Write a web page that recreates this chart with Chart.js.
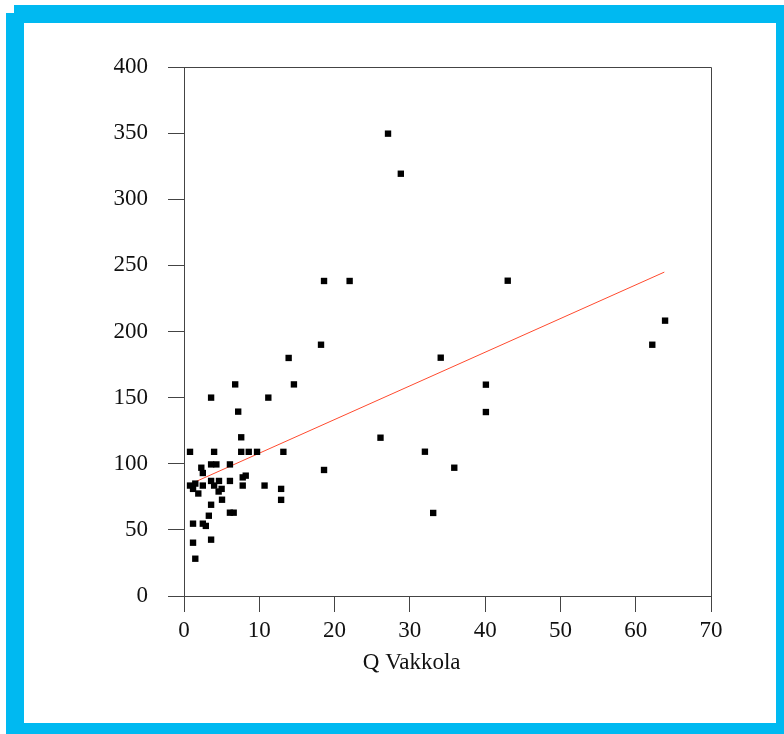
<!DOCTYPE html>
<html>
<head>
<meta charset="utf-8">
<script src="https://cdn.jsdelivr.net/npm/chart.js@4/dist/chart.umd.min.js"></script>
<style>
  html, body { margin: 0; padding: 0; background: #fff; }
  #wrap { position: relative; width: 784px; height: 734px; overflow: hidden; }
  #frame { position: absolute; left: 6px; top: 5px; width: 778px; height: 729px; background: #00b9f1; }
  #inner { position: absolute; left: 24px; top: 23px; width: 752px; height: 700px; background: #fff; }
  #notch { position: absolute; left: 6px; top: 5px; width: 8px; height: 8px; background: #fff; }
  canvas { position: absolute; left: 0; top: 0; }
</style>
</head>
<body>
<div id="wrap">
  <div id="frame"></div>
  <div id="inner"></div>
  <div id="notch"></div>
  <canvas id="c" width="784" height="734"></canvas>
</div>
<script>
// Q Vakkola (x) values of the observations
const xVals = [
  7.6, 0.8, 4.0, 7.6, 8.6, 9.7, 13.2, 2.3, 2.5, 3.6,
  4.3, 6.1, 0.8, 1.5, 1.2, 1.9, 2.5, 3.6, 4.0, 4.65,
  5.0, 4.6, 6.1, 7.8, 8.2, 7.8, 10.7, 12.9, 12.9, 5.05,
  3.6, 6.1, 6.6, 3.3, 1.2, 2.5, 2.9, 3.6, 1.2, 1.5,
  6.8, 3.6, 11.2, 7.2, 18.2, 13.9, 14.6, 26.1, 18.6,
  27.1, 28.8,
  43.0, 63.9, 62.2, 34.1, 40.1, 40.1, 32.0, 35.9, 33.1,
  18.6, 22.0
];
// y values of the observations
const yVals = [
  120, 109, 109, 109, 109, 109, 109, 97, 93, 99.5,
  99.5, 99.5, 83.5, 85, 81, 77.5, 83.5, 87, 83.5, 87,
  81, 79, 87, 89.7, 91, 83.5, 83.5, 81, 72.7, 72.8,
  69, 63, 63, 60.7, 54.7, 54.7, 53, 42.6, 40.3, 28.2,
  160, 150, 150, 139.4, 190, 180, 160, 119.7, 95.3,
  349.6, 319.3,
  238.4, 208.2, 190, 180.2, 159.8, 139.1, 109.1, 97, 62.8,
  238.2, 238.2
];
// fitted regression line end points
const fitX = [0.7, 63.8];
const fitY = [84.3, 244.9];
// axis ticks
const xTicks = [0, 10, 20, 30, 40, 50, 60, 70];
const yTicks = [0, 50, 100, 150, 200, 250, 300, 350, 400];
const xTitle = 'Q Vakkola';

const points = xVals.map((x, i) => ({ x: x, y: yVals[i] }));
const fitLine = fitX.map((x, i) => ({ x: x, y: fitY[i] }));

const FAMILY = "'Liberation Serif', 'Times New Roman', serif";
const FONT = { family: FAMILY, size: 23 };
const AXIS = '#444';

const boxPlugin = {
  id: 'box',
  afterDraw(chart) {
    const a = chart.chartArea, ctx = chart.ctx;
    ctx.save();
    ctx.strokeStyle = AXIS;
    ctx.lineWidth = 1;
    ctx.beginPath();
    ctx.moveTo(Math.round(a.left) + 0.5, Math.round(a.top) + 0.5);
    ctx.lineTo(Math.round(a.right) + 0.5, Math.round(a.top) + 0.5);
    ctx.lineTo(Math.round(a.right) + 0.5, Math.round(a.bottom) + 0.5);
    ctx.stroke();
    // x-axis title (placed slightly left of the plot centre, as in the original)
    ctx.fillStyle = '#111';
    ctx.font = '23px ' + FAMILY;
    ctx.textAlign = 'center';
    ctx.textBaseline = 'middle';
    ctx.fillText(xTitle, a.left + (a.right - a.left) * 0.432, a.bottom + 67);
    ctx.restore();
  }
};

new Chart(document.getElementById('c'), {
  type: 'scatter',
  data: {
    datasets: [
      {
        data: points,
        pointStyle: 'rect',
        pointRadius: 4.5,
        pointHoverRadius: 4.5,
        backgroundColor: '#000',
        borderColor: '#000',
        borderWidth: 0,
        order: 1
      },
      {
        type: 'line',
        data: fitLine,
        showLine: true,
        borderColor: '#ff4a2e',
        borderWidth: 1,
        pointRadius: 0,
        fill: false,
        order: 2
      }
    ]
  },
  options: {
    responsive: false,
    animation: false,
    events: [],
    layout: { padding: { left: 0, top: 67, right: 73, bottom: 0 } },
    plugins: { legend: { display: false }, tooltip: { enabled: false } },
    scales: {
      x: {
        type: 'linear',
        min: 0, max: 70,
        afterBuildTicks: s => { s.ticks = xTicks.map(v => ({ value: v })); },
        afterFit: s => { s.height = 138; },
        border: { display: true, color: AXIS, width: 1 },
        grid: { display: true, drawOnChartArea: false, drawTicks: true, tickLength: 16, color: AXIS, tickColor: AXIS },
        ticks: { color: '#111', font: FONT, padding: 5, maxRotation: 0, autoSkip: false },
        title: { display: false }
      },
      y: {
        type: 'linear',
        min: 0, max: 400,
        afterBuildTicks: s => { s.ticks = yTicks.map(v => ({ value: v })); },
        afterFit: s => { s.width = 184; },
        border: { display: true, color: AXIS, width: 1 },
        grid: { display: true, drawOnChartArea: false, drawTicks: true, tickLength: 16, color: AXIS, tickColor: AXIS },
        ticks: { color: '#111', font: FONT, padding: 20, autoSkip: false }
      }
    }
  },
  plugins: [boxPlugin]
});
</script>
</body>
</html>
